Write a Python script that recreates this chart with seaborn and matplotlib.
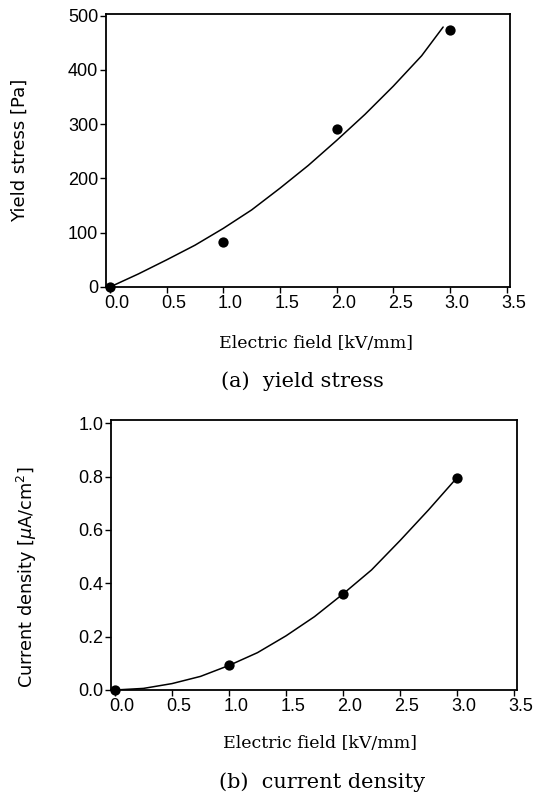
import matplotlib
matplotlib.use("Agg")
import matplotlib.pyplot as plt
from matplotlib.transforms import ScaledTranslation
import seaborn as sns
import pandas as pd

# ---- data ----
field_pts = [0.0, 1.0, 2.0, 3.0]
yield_pts = [0, 82, 291, 474]
yield_fit_x = [0.0, 0.25, 0.5, 0.75, 1.0, 1.25, 1.5, 1.75, 2.0, 2.25, 2.5, 2.75, 2.94]
yield_fit_y = [0, 24, 50, 77, 108, 142, 182, 224, 270, 318, 370, 426, 479]

current_pts = [0.0, 0.094, 0.36, 0.796]
current_fit_x = [0.0, 0.25, 0.5, 0.75, 1.0, 1.25, 1.5, 1.75, 2.0, 2.25, 2.5, 2.75, 3.0]
current_fit_y = [0.0, 0.006, 0.024, 0.051, 0.092, 0.14, 0.203, 0.275, 0.36, 0.45, 0.56, 0.675, 0.796]

x_ticks = [0.0, 0.5, 1.0, 1.5, 2.0, 2.5, 3.0, 3.5]
x_ticklabels = ["0.0", "0.5", "1.0", "1.5", "2.0", "2.5", "3.0", "3.5"]
yield_ticks = [0, 100, 200, 300, 400, 500]
current_ticks = [0.0, 0.2, 0.4, 0.6, 0.8, 1.0]
current_ticklabels = ["0.0", "0.2", "0.4", "0.6", "0.8", "1.0"]

sns.set_theme(style="white")
plt.rcParams["font.family"] = ["Liberation Sans", "DejaVu Sans"]
plt.rcParams["lines.solid_joinstyle"] = "round"
plt.rcParams["text.color"] = "black"

W, H = 549, 795
fig = plt.figure(figsize=(W / 100, H / 100), dpi=100)

ax1 = fig.add_axes([106 / W, 1 - 287 / H, 404 / W, 273 / H])
ax2 = fig.add_axes([111 / W, 1 - 690 / H, 406 / W, 270 / H])

def style(ax):
    for s in ax.spines.values():
        s.set_visible(True)
        s.set_color("black")
        s.set_linewidth(1.3)
    ax.tick_params(axis="both", which="major", direction="out", length=4,
                   width=1.0, color="black", labelsize=13, labelcolor="black",
                   bottom=True, left=True, top=False, right=False)
    ax.tick_params(axis="x", pad=2)
    ax.tick_params(axis="y", pad=1.5)
    ax.grid(False)
    ax.set_facecolor("white")

# top panel
d1 = pd.DataFrame({"x": field_pts, "y": yield_pts})
f1 = pd.DataFrame({"x": yield_fit_x, "y": yield_fit_y})
sns.lineplot(data=f1, x="x", y="y", ax=ax1, color="black", lw=1.1,
             estimator=None, sort=False)
sns.scatterplot(data=d1, x="x", y="y", ax=ax1, color="black", s=55,
                edgecolor="black", linewidth=0, zorder=5, clip_on=False)
ax1.set_xlim(-0.035, 3.53)
ax1.set_ylim(0, 503)
ax1.set_xticks(x_ticks)
ax1.set_xticklabels(x_ticklabels)
ax1.set_yticks(yield_ticks)
ax1.set_xlabel("")
ax1.set_ylabel("")
style(ax1)

# bottom panel
d2 = pd.DataFrame({"x": field_pts, "y": current_pts})
f2 = pd.DataFrame({"x": current_fit_x, "y": current_fit_y})
sns.lineplot(data=f2, x="x", y="y", ax=ax2, color="black", lw=1.1,
             estimator=None, sort=False)
sns.scatterplot(data=d2, x="x", y="y", ax=ax2, color="black", s=55,
                edgecolor="black", linewidth=0, zorder=5, clip_on=False)
ax2.set_xlim(-0.035, 3.526)
ax2.set_ylim(0, 1.012)
ax2.set_xticks(x_ticks)
ax2.set_xticklabels(x_ticklabels)
ax2.set_yticks(current_ticks)
ax2.set_yticklabels(current_ticklabels)
ax2.set_xlabel("")
ax2.set_ylabel("")
style(ax2)

# x tick labels sit slightly right of their ticks in the original
for ax in (ax1, ax2):
    for lab in ax.get_xticklabels():
        lab.set_transform(lab.get_transform() +
                          ScaledTranslation(7 / 100, 0, fig.dpi_scale_trans))

serif = ["DejaVu Serif"]
fig.text(316 / W, 1 - 344 / H, "Electric field [kV/mm]", ha="center", va="center",
         fontsize=12.5, family=serif, color="black")
fig.text(302 / W, 1 - 381 / H, "(a)  yield stress", ha="center", va="center",
         fontsize=15, family=serif, color="black")
fig.text(20 / W, 1 - 150 / H, "Yield stress [Pa]", ha="center", va="center",
         rotation=90, fontsize=13, family=["DejaVu Sans"], color="black")

fig.text(320 / W, 1 - 744 / H, "Electric field [kV/mm]", ha="center", va="center",
         fontsize=12.5, family=serif, color="black")
fig.text(322 / W, 1 - 782 / H, "(b)  current density", ha="center", va="center",
         fontsize=15, family=serif, color="black")
fig.text(27 / W, 1 - 577 / H, "Current density [$\\mu$A/cm$^2$]", ha="center",
         va="center", rotation=90, fontsize=12.7, family=["DejaVu Sans"],
         color="black")

fig.savefig("out.png", dpi=100, facecolor="white")
